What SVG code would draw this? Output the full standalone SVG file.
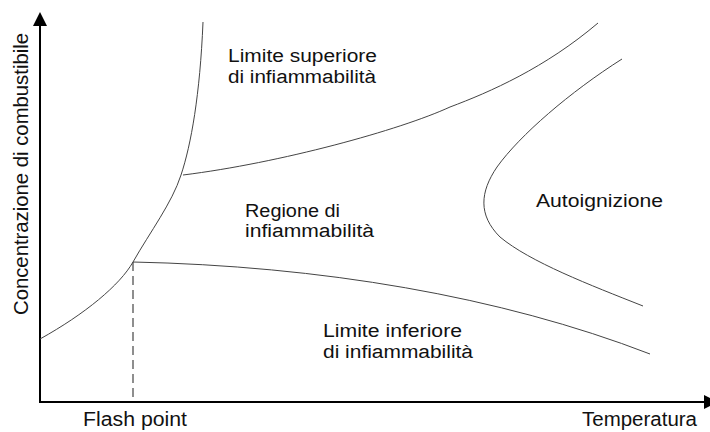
<svg xmlns="http://www.w3.org/2000/svg" width="710" height="432" viewBox="0 0 710 432">
<style>
.lbl{font-family:"Liberation Sans",Arial,sans-serif;font-size:18px;fill:#111}
.big{font-size:20px}
.curve{fill:none;stroke:#444;stroke-width:1}
.axis{fill:none;stroke:#000;stroke-width:2}
</style>
<defs>
<marker id="arr" viewBox="0 0 14 14" refX="0" refY="7" markerWidth="14" markerHeight="14" markerUnits="userSpaceOnUse" orient="auto">
<path d="M0,0 L14,7 L0,14 Z" fill="#000"/>
</marker>
</defs>
<rect width="710" height="432" fill="#fff"/>
<g id="axes">
<line class="axis" x1="40" y1="402" x2="40" y2="26" marker-end="url(#arr)"/>
<line class="axis" x1="39" y1="402" x2="704" y2="402" marker-end="url(#arr)"/>
</g>
<g id="connectors">
<path id="flash-curve" class="curve" d="M40,339 C85,314 120,285 133,262 C150,232 172,203 181,175 C191,145 200,95 203,22"/>
<path id="upper-limit" class="curve" d="M183,175 C280,163 400,130 450,107 C490,92 545,68 598,23"/>
<path id="lower-limit" class="curve" d="M133,262 C320,266 500,296 650,354"/>
<path id="autoignition" class="curve" d="M622,59 C570,92 520,135 497,167 C480,192 478,215 500,237 C530,262 590,285 643,306"/>
<line id="flash-dash" x1="133" y1="262" x2="133" y2="402" stroke="#444" stroke-width="1.2" stroke-dasharray="9,5"/>
</g>
<g id="label-upper">
<text class="lbl" x="228" y="62" textLength="149" lengthAdjust="spacingAndGlyphs">Limite superiore</text>
<text class="lbl" x="228" y="83" textLength="148" lengthAdjust="spacingAndGlyphs">di infiammabilità</text>
</g>
<g id="label-region">
<text class="lbl" x="245" y="217" textLength="95" lengthAdjust="spacingAndGlyphs">Regione di</text>
<text class="lbl" x="245" y="237" textLength="129" lengthAdjust="spacingAndGlyphs">infiammabilità</text>
</g>
<g id="label-auto">
<text class="lbl" x="536" y="207" textLength="127" lengthAdjust="spacingAndGlyphs">Autoignizione</text>
</g>
<g id="label-lower">
<text class="lbl" x="323" y="337" textLength="139" lengthAdjust="spacingAndGlyphs">Limite inferiore</text>
<text class="lbl" x="323" y="358" textLength="150" lengthAdjust="spacingAndGlyphs">di infiammabilità</text>
</g>
<g id="label-flash">
<text class="lbl big" x="83" y="426" textLength="104" lengthAdjust="spacingAndGlyphs">Flash point</text>
</g>
<g id="label-temp">
<text class="lbl big" x="582" y="426" textLength="115" lengthAdjust="spacingAndGlyphs">Temperatura</text>
</g>
<g id="label-conc">
<text class="lbl big" transform="translate(28,315) rotate(-90)" x="0" y="0" textLength="282" lengthAdjust="spacingAndGlyphs">Concentrazione di combustibile</text>
</g>
</svg>
